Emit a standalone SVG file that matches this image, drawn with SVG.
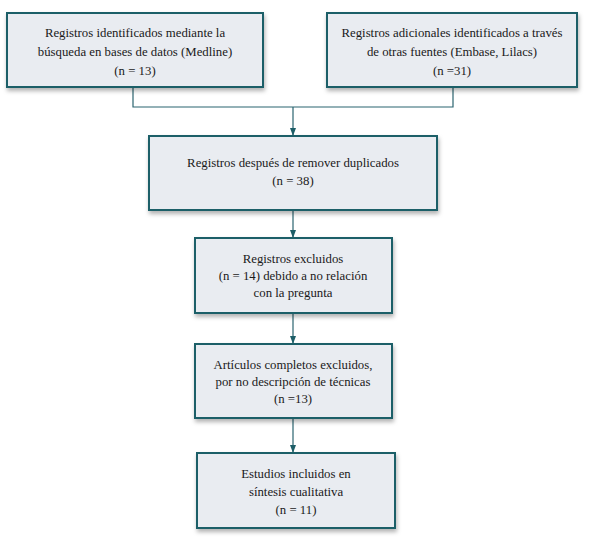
<svg xmlns="http://www.w3.org/2000/svg" width="589" height="544" viewBox="0 0 589 544">
<defs>
<style>
.box{fill:#e9ecf1;stroke:#1d5e68;stroke-width:2}
.t{font-family:"Liberation Serif","Times New Roman",serif;font-size:12.8px;fill:#1a1a1a;text-anchor:middle}
.c{fill:none;stroke:#2b6470;stroke-width:1.2}
</style>
<filter id="sh" x="-10%" y="-10%" width="125%" height="140%">
<feDropShadow dx="1" dy="3" stdDeviation="2" flood-color="#000" flood-opacity="0.3"/>
</filter>
<marker id="ah" markerWidth="8" markerHeight="6" refX="7" refY="3" orient="auto" markerUnits="userSpaceOnUse">
<path d="M0,0 L8,3 L0,6 Z" fill="#1d5e68"/>
</marker>
</defs>
<rect width="589" height="544" fill="#fff"/>
<g id="connectors">
<path class="c" d="M133,87 V107 H453 V87"/>
<path class="c" d="M293,107 V135" marker-end="url(#ah)"/>
<path class="c" d="M293,210 V237" marker-end="url(#ah)"/>
<path class="c" d="M293,313 V343" marker-end="url(#ah)"/>
<path class="c" d="M293,418 V452" marker-end="url(#ah)"/>
</g>
<g id="n1">
<rect class="box" x="7" y="13" width="256" height="74" filter="url(#sh)"/>
<text class="t" x="135" y="37">Registros identificados mediante la</text>
<text class="t" x="135" y="56">búsqueda en bases de datos (Medline)</text>
<text class="t" x="135" y="75">(n = 13)</text>
</g>
<g id="n2">
<rect class="box" x="327" y="13" width="250" height="74" filter="url(#sh)"/>
<text class="t" x="452" y="37">Registros adicionales identificados a través</text>
<text class="t" x="452" y="56">de otras fuentes (Embase, Lilacs)</text>
<text class="t" x="452" y="75">(n =31)</text>
</g>
<g id="n3">
<rect class="box" x="149" y="136" width="288" height="74" filter="url(#sh)"/>
<text class="t" x="293" y="167">Registros después de remover duplicados</text>
<text class="t" x="293" y="185">(n = 38)</text>
</g>
<g id="n4">
<rect class="box" x="195" y="238" width="197" height="75" filter="url(#sh)"/>
<text class="t" x="293" y="263">Registros excluidos</text>
<text class="t" x="293" y="280">(n = 14) debido a no relación</text>
<text class="t" x="293" y="297">con la pregunta</text>
</g>
<g id="n5">
<rect class="box" x="195" y="344" width="197" height="74" filter="url(#sh)"/>
<text class="t" x="293" y="369">Artículos completos excluidos,</text>
<text class="t" x="293" y="386">por no descripción de técnicas</text>
<text class="t" x="293" y="403">(n =13)</text>
</g>
<g id="n6">
<rect class="box" x="197" y="453" width="198" height="75" filter="url(#sh)"/>
<text class="t" x="296" y="478">Estudios incluidos en</text>
<text class="t" x="296" y="496">síntesis cualitativa</text>
<text class="t" x="296" y="514">(n = 11)</text>
</g>
</svg>
